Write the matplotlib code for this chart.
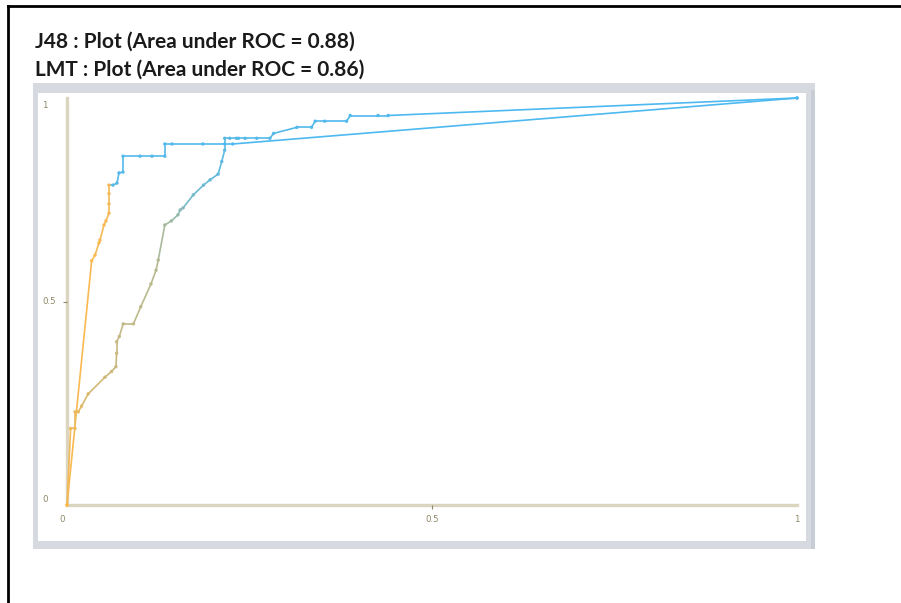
"""ROC curves for J48 and LMT, drawn in the style of the Weka threshold curve viewer."""

import numpy as np
import matplotlib

matplotlib.use("Agg")
import matplotlib.pyplot as plt
from matplotlib.collections import LineCollection
from matplotlib.lines import Line2D
from matplotlib.patches import Rectangle

W, H = 901, 603

titles = [
    "J48 : Plot (Area under ROC = 0.88)",
    "LMT : Plot (Area under ROC = 0.86)",
]

# J48 curve: false positive rate, true positive rate, threshold per point
j48_fpr = [0, 0.0338, 0.0384, 0.0438, 0.0452, 0.0507, 0.0534, 0.0575, 0.0575, 0.0575, 0.0575,
           0.063, 0.0685, 0.0712, 0.0767, 0.0767, 0.100, 0.1164, 0.134, 0.134, 0.144, 0.186,
           0.216, 0.227, 1.0]
j48_tpr = [0, 0.600, 0.614, 0.644, 0.651, 0.688, 0.698, 0.717, 0.740, 0.765, 0.786,
           0.786, 0.791, 0.816, 0.818, 0.857, 0.857, 0.857, 0.857, 0.887, 0.887, 0.887,
           0.887, 0.887, 1.0]
j48_thr = [1.0, 0.98, 0.97, 0.96, 0.96, 0.95, 0.95, 0.94, 0.94, 0.93, 0.93,
           0.06, 0.06, 0.05, 0.05, 0.05, 0.04, 0.04, 0.04, 0.03, 0.03, 0.03,
           0.02, 0.02, 0.0]

# LMT curve
lmt_fpr = [0, 0.005, 0.011, 0.011, 0.0155, 0.020, 0.029, 0.052, 0.061, 0.067, 0.068, 0.068,
           0.0716, 0.077, 0.091, 0.101, 0.115, 0.122, 0.125, 0.134, 0.143, 0.152, 0.155,
           0.159, 0.173, 0.187, 0.196, 0.207, 0.212, 0.216, 0.216, 0.223, 0.232, 0.235,
           0.244, 0.260, 0.278, 0.283, 0.315, 0.335, 0.340, 0.353, 0.383, 0.388, 0.426,
           0.440, 1.0]
lmt_tpr = [0, 0.188, 0.188, 0.229, 0.229, 0.243, 0.273, 0.314, 0.328, 0.340, 0.373, 0.401,
           0.414, 0.445, 0.445, 0.487, 0.543, 0.577, 0.602, 0.688, 0.698, 0.713, 0.725,
           0.730, 0.762, 0.786, 0.799, 0.813, 0.844, 0.872, 0.901, 0.901, 0.901, 0.901,
           0.901, 0.901, 0.901, 0.913, 0.928, 0.928, 0.943, 0.943, 0.943, 0.957, 0.957,
           0.957, 1.0]
lmt_thr = [1.0, 0.92, 0.9, 0.88, 0.86, 0.84, 0.8, 0.74, 0.72, 0.7, 0.69, 0.68,
           0.67, 0.66, 0.65, 0.63, 0.61, 0.6, 0.58, 0.52, 0.48, 0.42, 0.36,
           0.32, 0.24, 0.18, 0.15, 0.12, 0.1, 0.08, 0.07, 0.06, 0.06, 0.05,
           0.05, 0.05, 0.04, 0.04, 0.04, 0.03, 0.03, 0.03, 0.02, 0.02, 0.02,
           0.01, 0.0]

tick_values = [0, 0.5, 1]
tick_labels = ["0", "0.5", "1"]

AXIS_COLOR = "#dbd4bf"
LABEL_COLOR = "#8f8768"


def fx(px):
    return px / W


def fy(py):
    return 1 - py / H


def threshold_colors(thr, fade=0.3):
    t = np.asarray(thr)
    rgb = np.stack([t, np.full_like(t, 155 / 255), 0.92 * (1 - t)], axis=1)
    return rgb * (1 - fade) + fade


def draw_curve(ax, fpr, tpr, thr):
    pts = np.column_stack([fpr, tpr])
    cols = threshold_colors(thr)
    segs = np.stack([pts[:-1], pts[1:]], axis=1)
    lc = LineCollection(segs, colors=cols[1:], linewidths=1.2, clip_on=False, zorder=3)
    ax.add_collection(lc)
    ax.scatter(fpr, tpr, s=6, c=cols, marker="o", linewidths=0, clip_on=False, zorder=4)


fig = plt.figure(figsize=(W / 100, H / 100), dpi=100)
fig.patch.set_facecolor("white")

# page frame lines
fig.add_artist(Line2D([fx(8), 1], [fy(6), fy(6)], color="black", lw=2))
fig.add_artist(Line2D([fx(8), fx(8)], [fy(6), 0], color="black", lw=2))

# grey viewer panel with white plotting area
panel_kw = dict(transform=fig.transFigure, edgecolor="none", zorder=-2)
fig.add_artist(Rectangle((fx(33), fy(549)), fx(815) - fx(33), fy(83) - fy(549),
                         facecolor="#d6d9e0", **panel_kw))
fig.add_artist(Rectangle((fx(811), fy(549)), fx(815) - fx(811), fy(90) - fy(549),
                         facecolor="#c8ccd5", **panel_kw))
fig.add_artist(Rectangle((fx(38), fy(541)), fx(806) - fx(38), fy(93) - fy(541),
                         facecolor="white", **panel_kw))

for i, t in enumerate(titles):
    fig.text(fx(35), fy(42 + 28 * i), t, fontsize=15, family="Lato", weight="bold",
             color="#1a1a1a", va="center", ha="left")

ax = fig.add_axes([fx(67), fy(505), fx(797) - fx(67), fy(98) - fy(505)])
ax.set_zorder(2)
ax.set_xlim(0, 1)
ax.set_ylim(0, 1)
ax.patch.set_alpha(0)
for side in ("top", "right"):
    ax.spines[side].set_visible(False)
for side in ("left", "bottom"):
    ax.spines[side].set_color(AXIS_COLOR)
    ax.spines[side].set_linewidth(2.4)
    ax.spines[side].set_zorder(1)

ax.set_xticks([0.5])
ax.set_yticks([0.5])
ax.set_xticklabels([])
ax.set_yticklabels([])
ax.tick_params(length=3, width=0.8, color=LABEL_COLOR)

# tick labels placed the way the viewer draws them
y_offsets = [5, 0, -8]
for v, lab, dy in zip(tick_values, tick_labels, y_offsets):
    ax.annotate(lab, (0, v), xycoords="data", xytext=(-25, dy), textcoords="offset pixels",
                fontsize=6.2, color=LABEL_COLOR, ha="left", va="center", annotation_clip=False)
x_offsets = [-5, 0, 0]
for v, lab, dx in zip(tick_values, tick_labels, x_offsets):
    ax.annotate(lab, (v, 0), xycoords="data", xytext=(dx, -15), textcoords="offset pixels",
                fontsize=6.2, color=LABEL_COLOR, ha="center", va="center", annotation_clip=False)

draw_curve(ax, j48_fpr, j48_tpr, j48_thr)
draw_curve(ax, lmt_fpr, lmt_tpr, lmt_thr)

fig.savefig("out.png", dpi=100)
plt.close(fig)
